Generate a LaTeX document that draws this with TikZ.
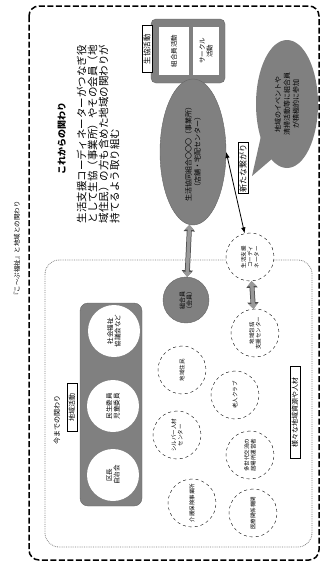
\documentclass[tikz,border=0pt]{standalone}
\usepackage{fontspec}
\setmainfont{Noto Sans CJK JP}
\usetikzlibrary{shapes.geometric,arrows.meta,calc}

\definecolor{tone}{gray}{0.5}

\begin{document}
\begin{tikzpicture}[x=1pt, y=-1pt,
    txt/.style={rotate=90, align=center, inner sep=1pt},
    res/.style={txt, circle, draw, dashed, thin, fill=white, minimum size=48pt,
                font=\fontsize{5.5}{6.5}\selectfont},
    org/.style={txt, circle, fill=white, minimum size=52pt, font=\fontsize{6.5}{7.5}\selectfont},
    tag/.style={txt, draw, thin, fill=white, inner sep=1.5pt, font=\fontsize{7}{8}\selectfont},
    panel/.style={txt, fill=white, minimum width=48pt, font=\fontsize{6.5}{7.5}\selectfont},
    blob/.style={txt, ellipse, fill=tone, font=\fontsize{7}{9}\selectfont},
    hatch/.style={line width=3.5pt, draw=tone!80,
                  {Triangle[width=9pt,length=5pt]}-{Triangle[width=9pt,length=5pt]}},
    link/.style={thick, {Latex[length=6pt]}-{Latex[length=6pt]}},
  ]
    \useasboundingbox (0,0) rectangle (322,566);

    % frames
    \node[txt, font=\fontsize{6.5}{7}\selectfont] (title) at (17,250)
      {『こ～ぷ福祉』と地域との関わり};
    \draw[line width=1.5pt, dash pattern=on 6pt off 2.5pt, rounded corners=10pt]
      (29,6) rectangle (319,560);
    \draw[gray, densely dotted, thick, rounded corners=14pt] (45,260) rectangle (312,547);

    % from now on
    \node[txt, font=\bfseries\fontsize{9}{10}\selectfont] (hdnew) at (62,138) {これからの関わり};
    \node[txt, align=left, font=\fontsize{10.5}{11}\selectfont] (para) at (98,134)
      {生活支援コーディネーターがつなぎ役\\として生協（事業所）やその会員（地\\域住民）の方も含めた地域の関わりが\\持てるよう取り組む};

    \draw[fill=tone, draw=black!60, rounded corners=5pt] (151,19) rectangle (225,83);
    \node[tag, minimum width=47pt, font=\fontsize{7.5}{8}\selectfont] (kind) at (147,49) {生協活動};
    \node[panel, minimum height=30pt] (p1) at (174,51) {組合員活動};
    \node[panel, minimum height=26pt] (p2) at (206,51) {サークル\\活動};

    \node[blob, draw=black!60, minimum width=146pt, minimum height=66pt] (coop) at (193,152)
      {生活協同組合〇〇〇（事業所）\\（店舗・宅配センター）};

    \coordinate (tip) at (252,176);
    \fill[tone] (261,136) -- (tip) -- (273,158) -- cycle;
    \node[blob, minimum width=128pt, minimum height=62pt] (voice) at (287,104)
      {地域のイベントや\\清掃活動等に組合員\\が積極的に参加};
    \node[tag, font=\fontsize{8}{9}\selectfont] (arata) at (243,168) {新たな繋がり};

    % until now
    \node[txt, font=\fontsize{7}{8}\selectfont] (hdold) at (57,420) {今までの関わり};
    \draw[fill=tone, draw=black!60, rounded corners=8pt] (80,303) rectangle (142,506);
    \node[tag, minimum width=48pt] (chiiki) at (72,407) {地域活動};
    \node[org] (kucho) at (113,475) {区長\\自治会};
    \node[org] (minsei) at (113,406) {民生委員\\児童委員};
    \node[org] (shakyo) at (114,331) {社会福祉\\協議会など};

    \node[blob, draw=black!60, circle, minimum size=46pt, font=\fontsize{6}{7}\selectfont] (mem) at (186,300)
      {組合員\\（会員）};

    \node[res] (coord) at (250,257) {生活支援\\コーディ\\ネーター};
    \node[res] (hokatsu) at (255,333) {地域包括\\支援センター};
    \node[res] (jumin) at (182,370) {地域住民};
    \node[res] (rojin) at (235,395) {老人クラブ};
    \node[res] (silver) at (177,435) {シルバー人材\\センター};
    \node[res] (tasedai) at (250,455) {多世代交流の\\居場所運営者};
    \node[res] (kaigo) at (192,503) {介護保険事業所};
    \node[res] (iryo) at (253,513) {医療関係機関};
    \node[tag, minimum width=92pt] (shigen) at (295,412) {様々な地域資源や人材};

    % connections
    \draw[black!70, line width=5pt,
          {Triangle[width=11pt,length=6.5pt]}-{Triangle[width=11pt,length=6.5pt]}] (coop) -- (mem);
    \draw[hatch] (coop) -- (mem);
    \draw[link] (coop.south) -- (coord);
    \draw[black!70, line width=5pt,
          {Triangle[width=11pt,length=6.5pt]}-{Triangle[width=11pt,length=6.5pt]}] (coord) -- (hokatsu);
    \draw[hatch] (coord) -- (hokatsu);
\end{tikzpicture}
\end{document}
